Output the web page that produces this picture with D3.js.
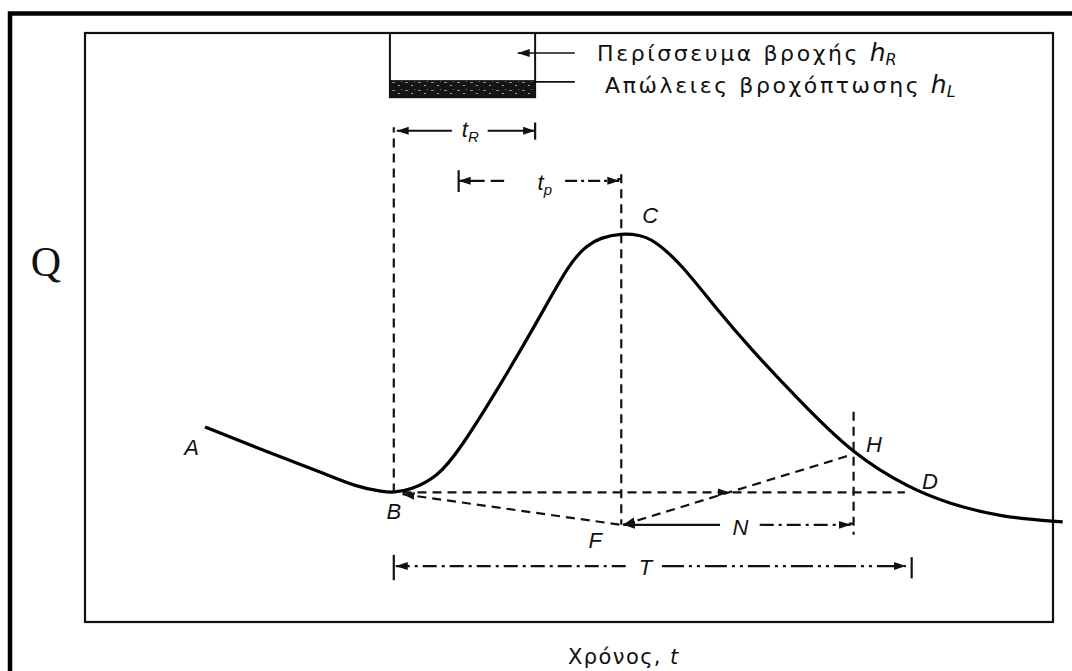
<!DOCTYPE html>
<html>
<head>
<meta charset="utf-8">
<script src="https://cdn.jsdelivr.net/npm/d3@7"></script>
<style>
    body { margin: 0; background: #fff; }
    text { font-family: "DejaVu Sans", sans-serif; fill: #111; }
    .lbl { font-family: "Liberation Sans", sans-serif; font-style: italic; font-size: 22px; }
</style>
</head>
<body>
<svg id="chart" width="1072" height="671"></svg>
<script>
// hydrograph, t and Q given as % of the inner frame
const curveT = [12.4, 19.1, 24.3, 28.1, 30.8, 31.9, 33.6, 36.4, 38.7, 42.9, 47.0, 50.1, 51.9, 53.2, 55.4, 57.3, 58.7, 61.5, 65.3, 68.7, 73.9, 79.4, 85.2, 89.1, 94.5, 101.0];
const curveQ = [33.1, 28.7, 25.5, 22.9, 22.1, 22.0, 22.4, 24.6, 29.2, 40.2, 51.8, 61.1, 64.0, 65.2, 66.0, 65.7, 64.9, 61.0, 53.0, 46.5, 37.4, 28.4, 22.7, 20.2, 17.8, 17.0];

// B, C, F, H, D
const keyNames = ["B", "C", "F", "H", "D"];
const keyT = [31.9, 55.4, 55.4, 79.4, 85.2];
const keyQ = [22.0, 66.0, 16.5, 28.4, 22.0];

// dimension lines tR, tp, N, T
const dimNames = ["tR", "tp", "N", "T"];
const dimFrom = [31.9, 38.6, 55.4, 31.9];
const dimTo = [46.5, 55.4, 79.4, 85.4];
const dimQ = [83.4, 74.9, 16.5, 9.5];

// rainfall block: t range, Q of top / losses top / bottom
const rainT = [31.5, 46.5];
const rainQ = [100, 92.0, 89.1];

const legendLabels = ["Περίσσευμα βροχής ", "Απώλειες βροχόπτωσης "];
const legendSubs = ["R", "L"];

const svg = d3.select("#chart");

const x = d3.scaleLinear().domain([0, 100]).range([85, 1053]);
const y = d3.scaleLinear().domain([0, 100]).range([622, 33]);

// markers
const defs = svg.append("defs");
defs.append("marker")
    .attr("id", "arr")
    .attr("markerUnits", "userSpaceOnUse")
    .attr("viewBox", "0 0 12 10")
    .attr("refX", 12).attr("refY", 5)
    .attr("markerWidth", 12).attr("markerHeight", 10)
    .attr("orient", "auto-start-reverse")
    .append("path").attr("d", "M0,1 L12,5 L0,9 z").attr("fill", "#111");

const pat = defs.append("pattern")
    .attr("id", "speckle")
    .attr("patternUnits", "userSpaceOnUse")
    .attr("width", 13).attr("height", 8);
pat.append("rect").attr("width", 13).attr("height", 8).attr("fill", "#151515");
pat.append("rect").attr("x", 2).attr("y", 2).attr("width", 3).attr("height", 1).attr("fill", "#8a8a8a");
pat.append("rect").attr("x", 8).attr("y", 5).attr("width", 2).attr("height", 1).attr("fill", "#a0a0a0");
pat.append("rect").attr("x", 11).attr("y", 1).attr("width", 1).attr("height", 1).attr("fill", "#777");

// outer page border
svg.append("path")
    .attr("d", "M10,671 L10,13.5 L1072,13.5")
    .attr("fill", "none").attr("stroke", "#000").attr("stroke-width", 4.5);

// frame
svg.append("rect")
    .attr("x", x(0)).attr("y", y(100))
    .attr("width", x(100) - x(0)).attr("height", y(0) - y(100))
    .attr("fill", "none").attr("stroke", "#111").attr("stroke-width", 2.2);

// rain block
svg.append("rect")
    .attr("x", x(rainT[0])).attr("y", y(rainQ[1]))
    .attr("width", x(rainT[1]) - x(rainT[0])).attr("height", y(rainQ[2]) - y(rainQ[1]))
    .attr("fill", "url(#speckle)");
svg.append("rect")
    .attr("x", x(rainT[0])).attr("y", y(rainQ[0]))
    .attr("width", x(rainT[1]) - x(rainT[0])).attr("height", y(rainQ[2]) - y(rainQ[0]))
    .attr("fill", "none").attr("stroke", "#111").attr("stroke-width", 2);

function seg(t1, q1, t2, q2, dash, w) {
    return svg.append("line")
        .attr("x1", x(t1)).attr("y1", y(q1))
        .attr("x2", x(t2)).attr("y2", y(q2))
        .attr("stroke", "#111")
        .attr("stroke-width", w || 2.2)
        .attr("stroke-dasharray", dash || null);
}

// legend leaders
seg(44.7, 96.6, 50.6, 96.6).attr("marker-start", "url(#arr)").attr("stroke-width", 1.6);
seg(rainT[1], 91.7, 50.6, 91.7).attr("stroke-width", 1.6);

legendLabels.forEach(function (lab, i) {
    const t = svg.append("text")
        .attr("x", i == 0 ? 597 : 605)
        .attr("y", i == 0 ? 61 : 93)
        .style("font-size", "22px")
        .style("letter-spacing", "2.6px");
    t.append("tspan").text(lab);
    t.append("tspan").style("font-style", "italic").style("letter-spacing", "0px").style("font-size", "25px").text("h");
    t.append("tspan").attr("dy", 4).style("font-style", "italic").style("letter-spacing", "0px").style("font-size", "16px").text(legendSubs[i]);
});

// hydrograph
const line = d3.line()
    .x(function (d, i) { return x(curveT[i]); })
    .y(function (d, i) { return y(curveQ[i]); })
    .curve(d3.curveBasis);
svg.append("path")
    .attr("d", line(curveT))
    .attr("fill", "none").attr("stroke", "#000").attr("stroke-width", 3.2);

const dash = "9,6";
const B = 0, C = 1, F = 2, H = 3, D = 4;

// vertical dashed lines
seg(keyT[B], keyQ[B], keyT[B], dimQ[0], dash);
seg(keyT[C], 76.0, keyT[C], keyQ[F], dash);
seg(keyT[H], 35.7, keyT[H], 14.8, dash);

// horizontal B - D with arrow in the middle
seg(keyT[B] + 0.9, keyQ[B], keyT[D] - 0.5, keyQ[D], dash);
seg(keyT[B] + 0.9, keyQ[B], 66.6, keyQ[B], "0,1000").attr("marker-end", "url(#arr)");

// B - F and F - H
seg(keyT[B] + 0.9, keyQ[B] - 0.3, keyT[F], keyQ[F], dash).attr("marker-start", "url(#arr)");
seg(keyT[F] + 0.2, keyQ[F], keyT[H] - 0.4, keyQ[H] - 0.1, dash).attr("marker-start", "url(#arr)");

// tR
seg(dimFrom[0] + 0.3, dimQ[0], 37.9, dimQ[0]).attr("marker-start", "url(#arr)");
seg(41.6, dimQ[0], dimTo[0], dimQ[0]).attr("marker-end", "url(#arr)");
seg(dimTo[0], dimQ[0] + 1.4, dimTo[0], dimQ[0] - 1.5);
seg(dimFrom[0], dimQ[0], dimFrom[0], dimQ[0] + 0.6);

// tp
seg(dimFrom[1], dimQ[1] + 1.8, dimFrom[1], dimQ[1] - 1.9);
seg(dimFrom[1], dimQ[1], 43.3, dimQ[1], "26,6").attr("marker-start", "url(#arr)");
seg(49.6, dimQ[1], dimTo[1] - 0.2, dimQ[1], "12,4,3,4").attr("marker-end", "url(#arr)");
seg(dimTo[1] - 0.4, dimQ[1] + 0.3, dimTo[1], dimQ[1] + 0.3);

// N
seg(dimFrom[2] + 0.2, dimQ[2], 65.6, dimQ[2]).attr("marker-start", "url(#arr)");
seg(69.7, dimQ[2], dimTo[2] - 0.3, dimQ[2], "14,5,3,5").attr("marker-end", "url(#arr)");
seg(dimTo[2] - 0.5, dimQ[2] + 0.2, dimTo[2], dimQ[2] + 0.2);

// T
seg(dimFrom[3], dimQ[3] + 1.9, dimFrom[3], dimQ[3] - 2.4);
seg(dimFrom[3] + 0.2, dimQ[3], 56.3, dimQ[3], "14,5,3,5").attr("marker-start", "url(#arr)");
seg(59.6, dimQ[3], dimTo[3] - 0.6, dimQ[3], "22,5,3,5,3,5").attr("marker-end", "url(#arr)");
seg(dimTo[3], dimQ[3] + 1.5, dimTo[3], dimQ[3] - 2.1);

// point labels
const labelNames = ["A", "B", "C", "D", "F", "H", "N", "T"];
const labelT = [11.0, 31.9, 58.4, 87.3, 52.7, 81.5, 67.7, 57.9];
const labelQ = [29.7, 18.7, 69.1, 23.8, 13.9, 30.1, 16.1, 9.2];

svg.selectAll(".ptlabel")
    .data(labelNames)
    .enter().append("text")
    .attr("class", "lbl ptlabel")
    .attr("x", function (d, i) { return x(labelT[i]); })
    .attr("y", function (d, i) { return y(labelQ[i]); })
    .attr("text-anchor", "middle")
    .attr("dominant-baseline", "central")
    .text(function (d) { return d; });

// tR / tp labels
const subT = [39.8, 47.5];
const subQ = [dimQ[0], dimQ[1] - 0.6];
const subs = ["R", "p"];
subs.forEach(function (s, i) {
    const t = svg.append("text")
        .attr("class", "lbl")
        .attr("x", x(subT[i])).attr("y", y(subQ[i]) + 6)
        .attr("text-anchor", "middle");
    t.append("tspan").text("t");
    t.append("tspan").attr("dy", 5).style("font-size", "15px").text(s);
});

// axis titles
svg.append("text")
    .attr("x", 46).attr("y", 276)
    .attr("text-anchor", "middle")
    .style("font-family", "'Liberation Serif', serif")
    .style("font-size", "42px")
    .text("Q");

const xt = svg.append("text")
    .attr("x", 568).attr("y", 664)
    .style("font-size", "21px")
    .style("letter-spacing", "1.4px");
xt.append("tspan").text("Χρόνος, ");
xt.append("tspan").style("font-style", "italic").text("t");
</script>
</body>
</html>
